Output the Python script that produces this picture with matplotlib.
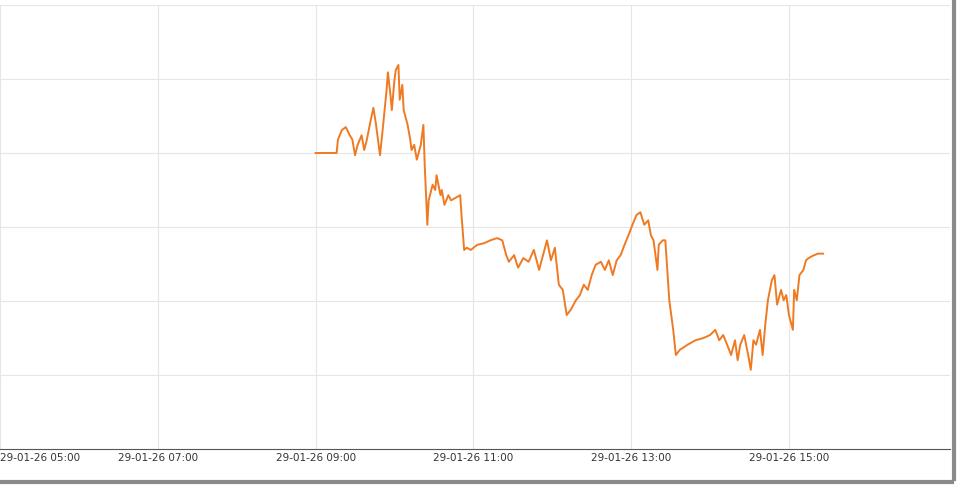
import matplotlib
matplotlib.use("Agg")
import matplotlib.pyplot as plt
import datetime as dt

start = dt.datetime(2026, 1, 29, 9, 0)
minutes = [0,16,17,20,23,26,28,30,32,35,37,39,42,44,46,48,49,51,54,55,57,58,60,61,63,64,66,67,69,70,
           72,73,75,77,79,80,82,83,85,86,89,91,92,95,96,98,101,103,106,110,111,113,115,118,123,128,133,138,142,145,
           147,151,154,158,162,166,170,173,176,179,182,185,188,191,194,198,201,204,207,210,213,217,220,223,226,229,232,235,238,241,
           244,247,250,253,255,257,260,261,264,266,269,272,274,277,283,289,295,300,304,307,310,313,316,319,321,323,326,329,331,333,
           335,338,340,342,344,347,349,351,354,356,358,360,363,364,366,368,371,373,375,378,382,386]
prices = [13.00,13.00,13.18,13.31,13.35,13.24,13.18,12.97,13.11,13.24,13.04,13.18,13.45,13.61,13.38,13.11,12.97,13.31,13.85,14.09,
          13.78,13.58,13.99,14.12,14.19,13.72,13.92,13.58,13.45,13.38,13.18,13.04,13.11,12.91,13.04,13.11,13.38,12.84,12.03,12.36,
          12.57,12.50,12.70,12.43,12.50,12.30,12.43,12.36,12.39,12.43,12.16,11.69,11.72,11.69,11.76,11.78,11.82,11.85,11.82,11.62,
          11.53,11.62,11.45,11.58,11.53,11.69,11.42,11.62,11.82,11.55,11.72,11.22,11.15,10.81,10.88,11.01,11.08,11.22,11.15,11.35,
          11.49,11.53,11.42,11.55,11.35,11.55,11.62,11.76,11.89,12.03,12.16,12.20,12.03,12.09,11.89,11.82,11.42,11.76,11.82,11.82,
          11.01,10.61,10.27,10.34,10.41,10.47,10.50,10.54,10.61,10.47,10.54,10.41,10.27,10.47,10.20,10.41,10.54,10.27,10.07,10.47,
          10.41,10.61,10.27,10.68,11.01,11.28,11.35,10.95,11.15,11.01,11.08,10.81,10.61,11.15,11.01,11.35,11.42,11.55,11.58,11.61,
          11.64,11.64]
xticks = ["05:00", "07:00", "09:00", "11:00", "13:00", "15:00"]

n = min(len(minutes), len(prices))
times = [start + dt.timedelta(minutes=m) for m in minutes[:n]]

W, H = 970, 487
fig = plt.figure(figsize=(W/100, H/100), dpi=100)
fig.patch.set_facecolor("white")
fig.add_artist(plt.Line2D([954/W, 954/W], [8/H, 1], color="#8a8a8a", lw=3))
fig.add_artist(plt.Line2D([0, 952/W], [5/H, 5/H], color="#8a8a8a", lw=3))

ax = fig.add_axes([0, 38/H, 950/W, 444/H])
ax.plot(times, prices[:n], color="#f07a22", lw=1.4)

t0 = dt.datetime(2026, 1, 29, 5, 0) + dt.timedelta(minutes=1.0)
t1 = dt.datetime(2026, 1, 29, 17, 0) + dt.timedelta(minutes=2.5)
ax.set_xlim(t0, t1)
ax.set_ylim(9, 15)
tick_dt = [dt.datetime(2026, 1, 29, int(s[:2]), int(s[3:])) for s in xticks]
ax.set_xticks(tick_dt)
ax.set_xticklabels(["29-01-26 " + s for s in xticks], fontsize=7.5, color="#333333",
                   family="DejaVu Sans")
ax.get_xticklabels()[0].set_ha("left")
ax.set_yticks([10, 11, 12, 13, 14, 15])
ax.set_yticklabels([])
ax.tick_params(axis="y", length=0)
ax.tick_params(axis="x", length=0, pad=3)
ax.grid(True, color="#e6e6e6", lw=0.8)
for s in ["top", "right", "left"]:
    ax.spines[s].set_visible(False)
ax.spines["bottom"].set_color("#555555")
fig.savefig("out.png", dpi=100)
